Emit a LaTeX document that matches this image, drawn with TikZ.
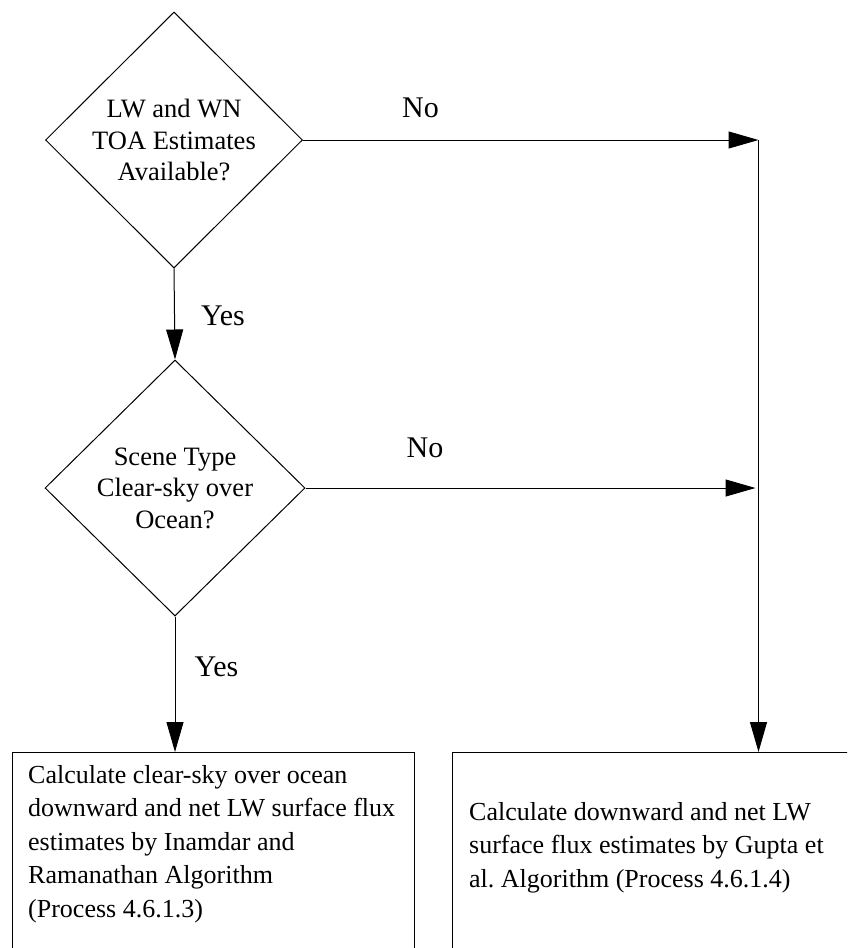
\documentclass[tikz,border=0pt]{standalone}
\usepackage{fontspec}
\setmainfont{Liberation Serif}
\usetikzlibrary{shapes.geometric,arrows.meta}

\tikzset{
  decision/.style={diamond, draw, line width=1pt, inner sep=0pt, align=center,
    font=\fontsize{26.5}{31.5}\selectfont},
  procbox/.style={rectangle, draw, line width=1pt, anchor=north west, inner sep=0pt},
  boxtext/.style={anchor=north west, inner sep=0pt, align=left,
    font=\fontsize{26}{33.5}\selectfont},
  answer/.style={anchor=base, inner sep=0pt, font=\fontsize{30}{34}\selectfont},
  flow/.style={line width=1pt, -{Triangle[length=30pt,width=17pt]}}
}

\begin{document}
\begin{tikzpicture}[x=1pt,y=-1pt]
  \useasboundingbox (0,0) rectangle (847,948);
  \clip (0,0) rectangle (847,948);

  % decisions
  \node[decision, minimum width=257pt, minimum height=256pt] (toa) at (174,140)
    {LW and WN\\TOA Estimates\\Available?};
  \node[decision, minimum width=260pt, minimum height=256pt] (scene) at (175,488)
    {Scene Type\\Clear-sky over\\Ocean?};

  % process boxes (their lower parts run past the page edge)
  \node[procbox, minimum width=402pt, minimum height=240pt] (ir) at (12,752) {};
  \node[procbox, minimum width=440pt, minimum height=240pt] (gupta) at (452,752) {};

  \node[boxtext] (irtext) at (28,765)
    {Calculate clear-sky over ocean\\downward and net LW surface flux\\estimates by Inamdar and\\Ramanathan Algorithm\\(Process 4.6.1.3)};
  \node[boxtext] (guptatext) at (469,802)
    {Calculate downward and net LW\\surface flux estimates by Gupta et\\al.\ Algorithm (Process 4.6.1.4)};

  % the "No" branches collect on the right
  \coordinate (corner) at (758.5,140);

  \draw[flow] (toa.east) -- (corner);
  \draw[flow] (corner) -- (corner |- gupta.north);
  \draw[flow, shorten >=3pt] (scene.east) -- (scene.east -| corner);

  \draw[flow] (toa.south) -- (scene.north);
  \draw[flow] (scene.south) -- (scene.south |- ir.north);

  % branch labels
  \node[answer] (no1) at (420.5,117) {No};
  \node[answer] (yes1) at (223,325) {Yes};
  \node[answer] (no2) at (425,457.5) {No};
  \node[answer] (yes2) at (216.5,676) {Yes};
\end{tikzpicture}
\end{document}
